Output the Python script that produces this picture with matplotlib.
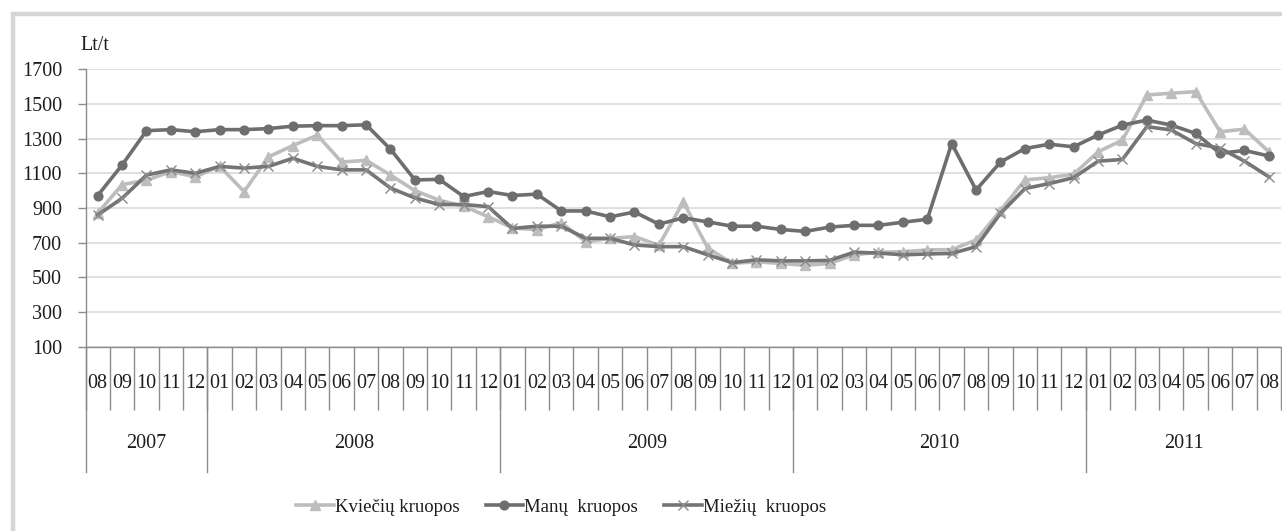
import matplotlib
matplotlib.use("Agg")
import matplotlib.pyplot as plt
import matplotlib.transforms as mtransforms
from matplotlib.patches import Rectangle
from matplotlib.lines import Line2D
import numpy as np

plt.rcParams['font.family'] = ['Liberation Serif', 'DejaVu Serif']

# ---------------- data ----------------
years = ["2007", "2008", "2009", "2010", "2011"]
months_per_year = [
    ["08", "09", "10", "11", "12"],
    ["01", "02", "03", "04", "05", "06", "07", "08", "09", "10", "11", "12"],
    ["01", "02", "03", "04", "05", "06", "07", "08", "09", "10", "11", "12"],
    ["01", "02", "03", "04", "05", "06", "07", "08", "09", "10", "11", "12"],
    ["01", "02", "03", "04", "05", "06", "07", "08"],
]
month_labels = [m for ms in months_per_year for m in ms]

kvieciu = [870, 1035, 1060, 1110, 1080,
           1140, 995, 1195, 1260, 1320, 1165, 1175, 1090, 1000, 945, 910, 850,
           785, 775, 815, 706, 725, 735, 685, 935, 670, 580, 590, 580,
           570, 580, 630, 645, 648, 658, 660, 715, 885, 1062, 1075, 1095,
           1224, 1292, 1552, 1562, 1571, 1340, 1355, 1224]

manu = [972, 1148, 1346, 1352, 1340,
        1352, 1352, 1358, 1372, 1375, 1375, 1380, 1239, 1062, 1065, 966, 995,
        972, 980, 883, 883, 849, 877, 807, 843, 820, 795, 795, 776,
        765, 790, 800, 800, 818, 835, 1272, 1004, 1165, 1243, 1268, 1253,
        1321, 1378, 1407, 1378, 1330, 1215, 1232, 1200]

miezu = [860, 956, 1090, 1120, 1100,
         1140, 1130, 1140, 1187, 1140, 1120, 1120, 1015, 958, 920, 920, 908,
         782, 795, 795, 725, 725, 687, 677, 677, 630, 585, 601, 595,
         595, 598, 645, 640, 630, 635, 638, 677, 869, 1012, 1041, 1075,
         1170, 1180, 1369, 1350, 1272, 1245, 1170, 1080]

series_names = ["Kviečių kruopos", "Manų  kruopos", "Miežių  kruopos"]
y_ticks = [100, 300, 500, 700, 900, 1100, 1300, 1500, 1700]
unit_label = "Lt/t"

# ---------------- figure ----------------
W, H = 1282, 531
fig = plt.figure(figsize=(W / 100, H / 100), dpi=100)
fig.patch.set_facecolor("white")

# outer grey frame (cut at right/bottom)
fig.add_artist(Rectangle((12.5 / W, -0.1), 1.2, (H - 14) / H + 0.1,
                         transform=fig.transFigure, fill=False,
                         edgecolor="#d6d6d6", linewidth=3.2))

ax_left, ax_bottom = 85.5 / W, (H - 346.7) / H
ax_w, ax_h = 49 * 24.4 / W, 277.4 / H
ax = fig.add_axes([ax_left, ax_bottom, ax_w, ax_h])

x = np.arange(len(month_labels))
grey_axis = "#8c8c8c"
text_col = "#1e1e1e"

ax.plot(x, kvieciu, color="#bdbdbd", lw=2.6, marker="^", ms=7,
        mfc="#bdbdbd", mec="#bdbdbd", label=series_names[0], zorder=3)
ax.plot(x, manu, color="#6e6e6e", lw=2.6, marker="o", ms=6.3,
        mfc="#6e6e6e", mec="#6e6e6e", label=series_names[1], zorder=4)
ax.plot(x, miezu, color="#747474", lw=2.6, marker="x", ms=7.5, mew=1.0,
        mec="#8a8a8a", label=series_names[2], zorder=5)

ax.set_xlim(-0.5, len(month_labels) - 0.5)
ax.set_ylim(100, 1700)
ax.set_yticks(y_ticks)
ax.set_yticklabels([str(v) for v in y_ticks], fontsize=14.5, color=text_col)
ax.yaxis.grid(True, color="#d9d9d9", lw=1.2)
ax.set_axisbelow(True)

for s in ["top", "right"]:
    ax.spines[s].set_visible(False)
for s in ["left", "bottom"]:
    ax.spines[s].set_color(grey_axis)
    ax.spines[s].set_linewidth(1.0)

ax.tick_params(axis="y", direction="out", length=5.8, width=1.0,
               color=grey_axis, pad=11)

# month separators as minor ticks
ax.set_xticks([])
ax.set_xticks(np.arange(-0.5, len(month_labels)), minor=True)
ax.tick_params(axis="x", which="minor", direction="out", length=45,
               width=1.0, color=grey_axis)
ax.tick_params(axis="x", which="major", length=0)

trans = mtransforms.blended_transform_factory(ax.transData, ax.transAxes)
for i, m in enumerate(month_labels):
    ax.text(i, -0.131, m, transform=trans, ha="center", va="center",
            fontsize=14.5, color=text_col, clip_on=False)

# year separators and labels
start = 0
y_sep_bottom = -(471.7 - 346.7) / 277.4
for yr, ms in zip(years, months_per_year):
    n = len(ms)
    ax.add_line(Line2D([start - 0.5, start - 0.5], [0, y_sep_bottom],
                       transform=trans, color=grey_axis, lw=1.0,
                       clip_on=False))
    ax.text(start + (n - 1) / 2, -(443 - 346.7) / 277.4, yr, transform=trans,
            ha="center", va="center", fontsize=14.5, color=text_col,
            clip_on=False)
    start += n

fig.text(80 / W, 1 - 45 / H, unit_label, ha="left", va="center",
         fontsize=14.5, color=text_col)

leg = fig.legend(loc="center", bbox_to_anchor=(561 / W, 1 - 507 / H), ncol=3,
                 frameon=False, fontsize=13.5, handlelength=2.0,
                 handletextpad=0.05, columnspacing=1.4)
for t in leg.get_texts():
    t.set_color(text_col)

fig.savefig("out.png", dpi=100, facecolor="white")
